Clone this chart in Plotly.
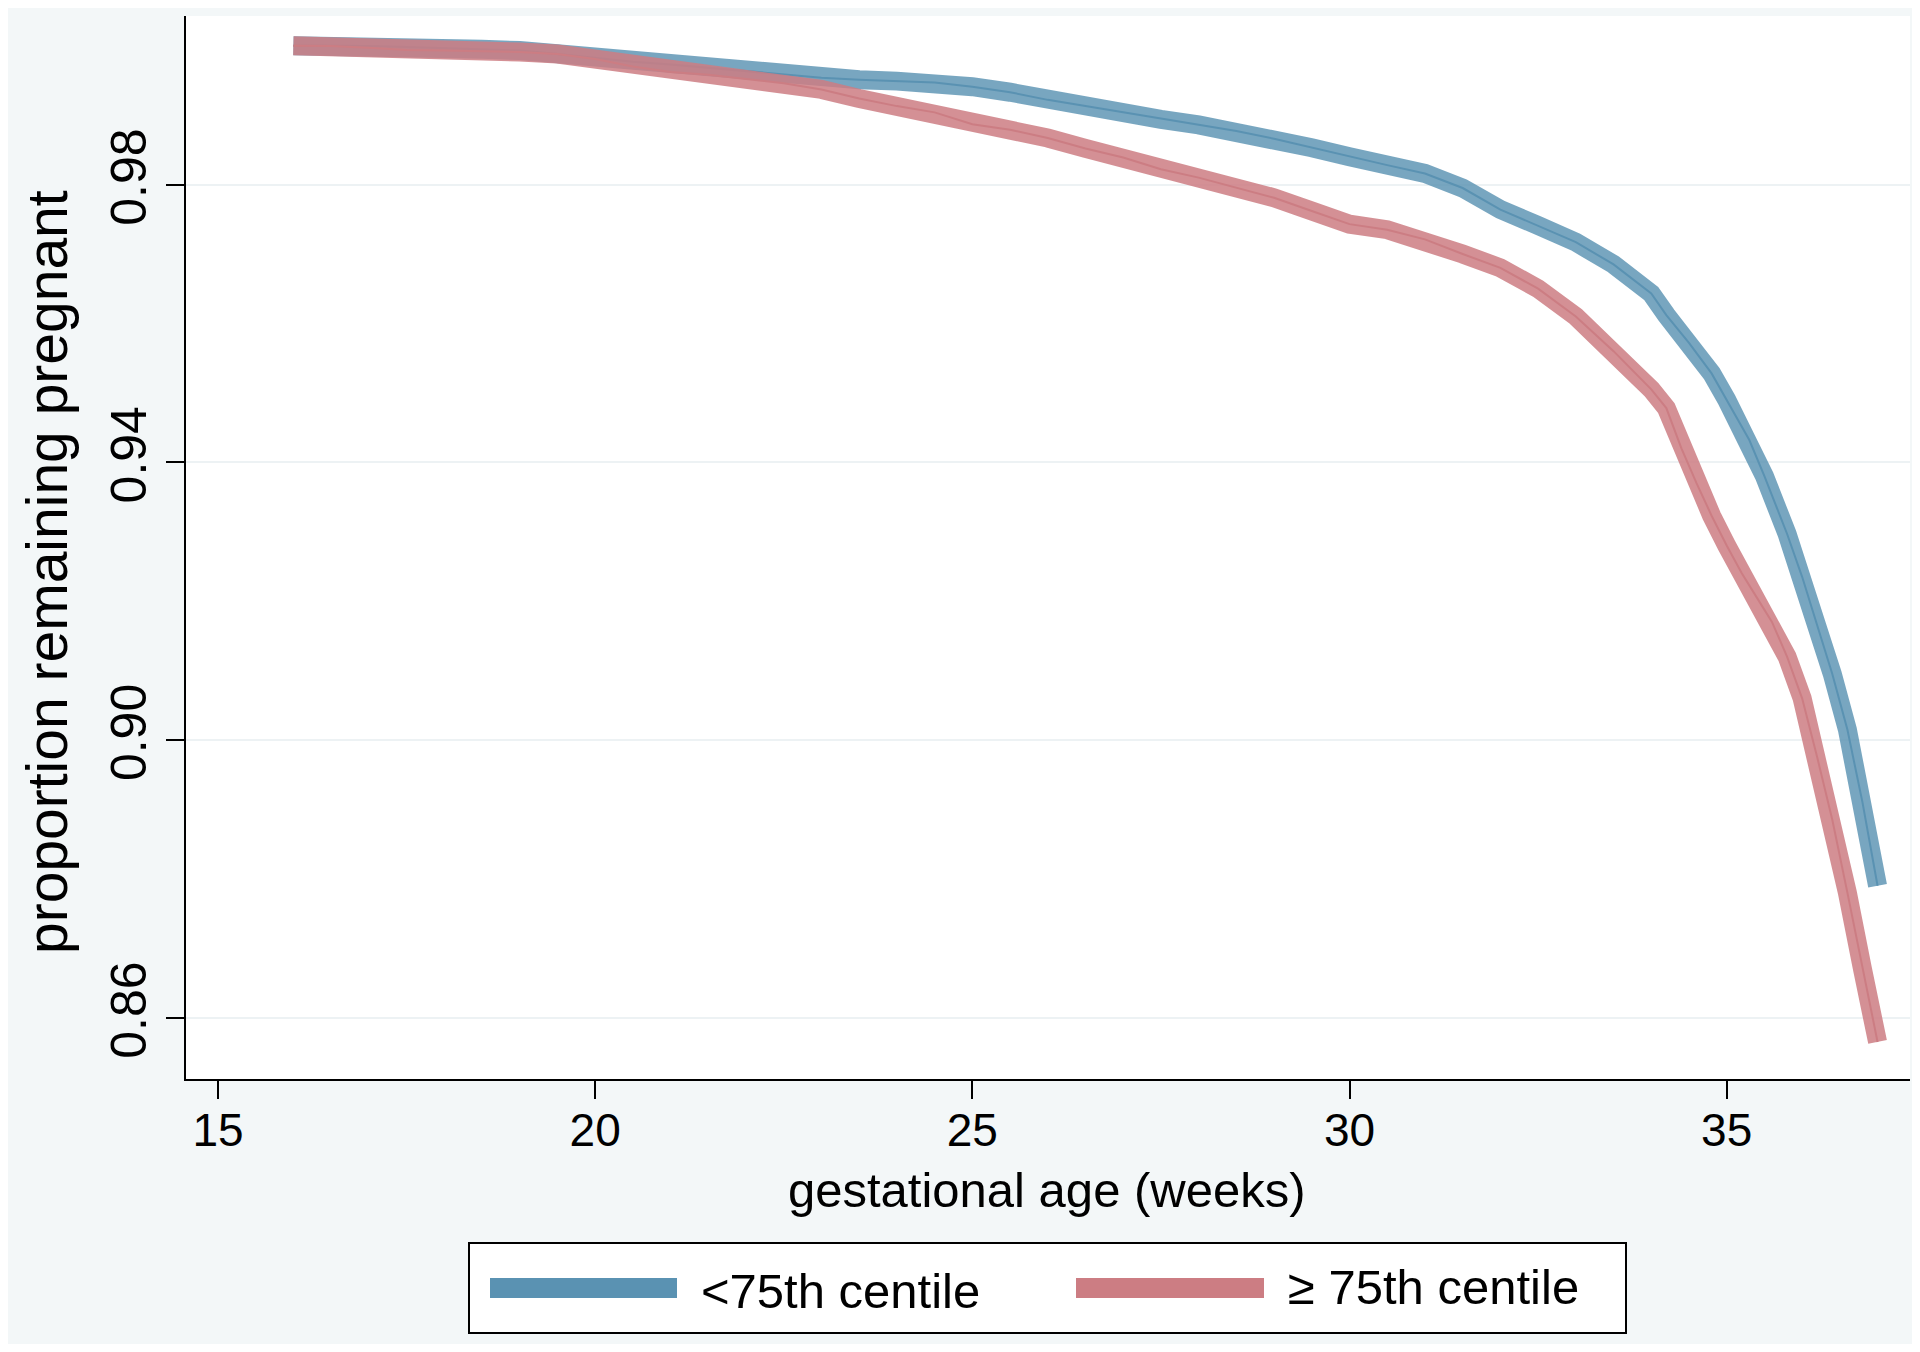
import plotly.graph_objects as go

# ---- data ----
weeks_lt75 = [16.0, 16.5, 17.0, 17.5, 18.0, 18.5, 19.0, 19.5, 20.0, 20.5, 21.0, 21.5, 22.0, 22.5,
              23.0, 23.5, 24.0, 24.5, 25.0, 25.5, 26.0, 26.5, 27.0, 27.5, 28.0, 28.5, 29.0, 29.5,
              30.0, 30.5, 31.0, 31.5, 32.0, 32.5, 33.0, 33.5, 34.0, 34.2, 34.5, 34.8, 35.0, 35.3,
              35.5, 35.8, 36.0, 36.2, 36.4, 36.6, 36.8, 37.0]
surv_lt75 = [1.0000, 1.0000, 0.99995, 0.9998, 0.99965, 0.9995, 0.9993, 0.9988, 0.9982, 0.9977,
             0.9973, 0.9968, 0.9963, 0.9958, 0.9954, 0.9951, 0.9949, 0.9947, 0.9941, 0.9933,
             0.9922, 0.9913, 0.9903, 0.9894, 0.9886, 0.9877, 0.9866, 0.9853, 0.9840, 0.9828,
             0.9816, 0.9795, 0.9764, 0.9741, 0.9717, 0.9685, 0.9643, 0.9612, 0.9572, 0.9528,
             0.9490, 0.9432, 0.9380, 0.9297, 0.9235, 0.9165, 0.9095, 0.9015, 0.8910, 0.8790]

weeks_ge75 = [16.0, 16.5, 17.0, 17.5, 18.0, 18.5, 19.0, 19.5, 20.0, 20.5, 21.0, 21.5, 22.0, 22.5,
              23.0, 23.5, 24.0, 24.5, 25.0, 25.5, 26.0, 26.5, 27.0, 27.5, 28.0, 28.5, 29.0, 29.5,
              30.0, 30.5, 31.0, 31.5, 32.0, 32.5, 33.0, 33.5, 34.0, 34.2, 34.4, 34.6, 34.8, 35.0,
              35.2, 35.4, 35.6, 35.8, 36.0, 36.2, 36.4, 36.6, 36.8, 37.0]
surv_ge75 = [1.0000, 0.99995, 0.9997, 0.9994, 0.9993, 0.9992, 0.9991, 0.9988, 0.9981, 0.9970,
             0.9962, 0.9958, 0.9952, 0.9946, 0.9937, 0.9924, 0.9913, 0.9904, 0.9887, 0.9879,
             0.9867, 0.9852, 0.9839, 0.9822, 0.9810, 0.9796, 0.9781, 0.9762, 0.9743, 0.9735,
             0.9721, 0.9700, 0.9680, 0.9650, 0.9610, 0.9560, 0.9505, 0.9478, 0.9420, 0.9370,
             0.9323, 0.9280, 0.9240, 0.9205, 0.9170, 0.9120, 0.9060, 0.8975, 0.8885, 0.8780,
             0.8670, 0.8565]

series_names = ["<75th centile", "\u2265 75th centile"]
x_ticks = [15, 20, 25, 30, 35]
y_ticks = [0.86, 0.90, 0.94, 0.98]

BLUE = "#5a92b2"
RED = "#cc7d83"
BLUE_BAND = "rgba(90,146,178,0.82)"
RED_BAND = "rgba(204,125,131,0.85)"
FONT = "Liberation Sans, Arial, Helvetica, sans-serif"

# the page places the figure 8px from the window's top-left corner
OX, OY = 8, 8
W, H = 1904, 1336
L, R, T, B = 178, 2, 8, 265
PW, PH = W - L - R, H - T - B


def px(xpage):
    return (xpage - OX - L) / PW


def py(ypage):
    return (OY + H - B - ypage) / PH


fig = go.Figure()

for xs, ys, band, core, name in [
    (weeks_lt75, surv_lt75, BLUE_BAND, BLUE, series_names[0]),
    (weeks_ge75, surv_ge75, RED_BAND, RED, series_names[1]),
]:
    fig.add_trace(go.Scatter(x=xs, y=ys, mode="lines", name=name, showlegend=False,
                             line=dict(color=band, width=19), hoverinfo="skip"))
    fig.add_trace(go.Scatter(x=xs, y=ys, mode="lines", name=name, showlegend=False,
                             line=dict(color=core, width=2)))

shapes = []
# legend box
shapes.append(dict(type="rect", xref="paper", yref="paper",
                   x0=px(469), x1=px(1626), y0=py(1243), y1=py(1333),
                   fillcolor="white", line=dict(color="black", width=2)))
# legend swatches
shapes.append(dict(type="line", xref="paper", yref="paper",
                   x0=px(490), x1=px(677), y0=py(1288), y1=py(1288),
                   line=dict(color=BLUE, width=20)))
shapes.append(dict(type="line", xref="paper", yref="paper",
                   x0=px(1076), x1=px(1264), y0=py(1288), y1=py(1288),
                   line=dict(color=RED, width=20)))

annotations = [
    dict(text=series_names[0], xref="paper", yref="paper", x=px(699), y=py(1291),
         xanchor="left", yanchor="middle", showarrow=False,
         font=dict(family=FONT, size=49, color="black")),
    dict(text=series_names[1], xref="paper", yref="paper", x=px(1286), y=py(1287),
         xanchor="left", yanchor="middle", showarrow=False,
         font=dict(family=FONT, size=49, color="black")),
    dict(text="gestational age (weeks)", xref="paper", yref="paper", x=px(1047), y=py(1190),
         xanchor="center", yanchor="middle", showarrow=False,
         font=dict(family=FONT, size=49, color="black")),
    dict(text="proportion remaining pregnant", xref="paper", yref="paper", x=px(47), y=py(572),
         xanchor="center", yanchor="middle", showarrow=False, textangle=-90,
         font=dict(family=FONT, size=57, color="black")),
]

fig.update_layout(
    width=W, height=H,
    margin=dict(l=L, r=R, t=T, b=B, pad=0),
    paper_bgcolor="#f3f7f8",
    plot_bgcolor="white",
    showlegend=False,
    shapes=shapes,
    annotations=annotations,
    font=dict(family=FONT, color="black"),
)
fig.update_xaxes(range=[14.576, 37.43], tickvals=x_ticks, ticktext=[str(v) for v in x_ticks],
                 showgrid=False, zeroline=False, showline=True, linecolor="black", linewidth=2,
                 ticks="outside", ticklen=18, tickwidth=2, tickcolor="black",
                 ticklabelstandoff=-8,
                 tickfont=dict(family=FONT, size=46, color="black"))
fig.update_yaxes(range=[0.85116, 1.00428], tickvals=y_ticks, ticktext=[f"{v:.2f}" for v in y_ticks],
                 showgrid=True, gridcolor="#edf2f4", gridwidth=2, zeroline=False,
                 showline=True, linecolor="black", linewidth=2,
                 ticks="outside", ticklen=18, tickwidth=2, tickcolor="black", tickangle=-90,
                 tickfont=dict(family=FONT, size=50, color="black"))

fig.write_html("out.html")
